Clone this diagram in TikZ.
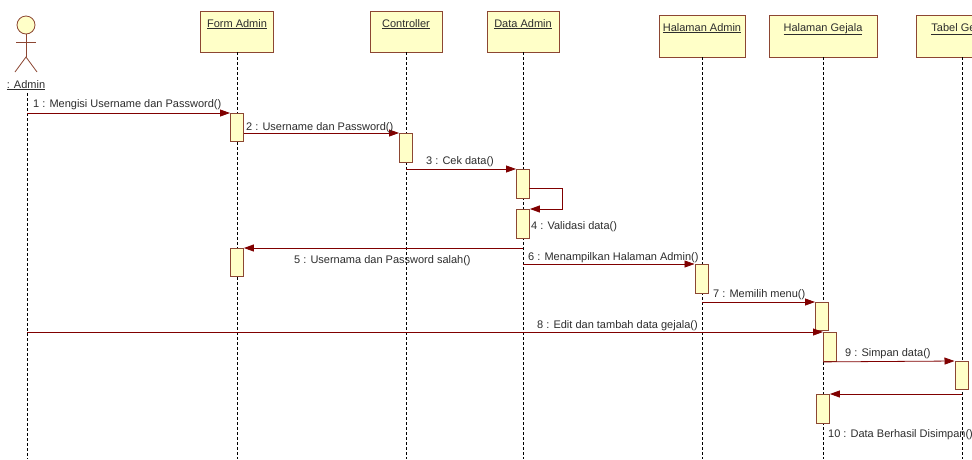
\documentclass[tikz,border=0pt]{standalone}
\usepackage{fontspec}
\setmainfont{Liberation Sans}
\usetikzlibrary{arrows.meta}
\definecolor{msgc}{RGB}{128,0,0}
\definecolor{boxfill}{RGB}{255,255,200}
\definecolor{boxline}{RGB}{140,70,50}
\definecolor{txtc}{RGB}{45,45,45}
\begin{document}
\begin{tikzpicture}[x=1pt,y=-1pt,
  font=\fontsize{11}{13}\selectfont,
  headbox/.style={draw=boxline, fill=boxfill, line width=0.9pt, inner sep=0, rectangle},
  actbox/.style={draw=boxline, fill=boxfill, line width=0.9pt, minimum width=13pt, minimum height=28pt, inner sep=0, rectangle, anchor=north west},
  lifeline/.style={draw=black, dash pattern=on 3pt off 2pt, line width=0.6pt},
  msgline/.style={draw=msgc, line width=0.8pt, -{Triangle[length=10pt,width=7pt]}},
  headtxt/.style={text=txtc, anchor=base, inner sep=0},
  lbl/.style={text=txtc, anchor=base west, inner sep=0},
  actorline/.style={draw=boxline, line width=0.8pt},
]
\useasboundingbox (0,0) rectangle (972,459);
\fill[white] (0,0) rectangle (972,459);

% ---------- object heads ----------
\node[headbox, minimum width=73pt, minimum height=41pt] (fa) at (237,31.5) {};
\node[headbox, minimum width=72pt, minimum height=41pt] (ct) at (406,31.5) {};
\node[headbox, minimum width=72pt, minimum height=41pt] (da) at (523,31.5) {};
\node[headbox, minimum width=86pt, minimum height=42pt] (ha) at (702,36) {};
\node[headbox, minimum width=108pt, minimum height=42pt] (hg) at (823,36) {};
\node[headbox, minimum width=92pt, minimum height=42pt] (tg) at (962,36) {};

\node[headtxt] (fat) at (237,27) {\underline{Form Admin}};
\node[headtxt] (ctt) at (406,27) {\underline{Controller}};
\node[headtxt] (dat) at (523,27) {\underline{Data Admin}};
\node[headtxt] (hat) at (702,31) {\underline{Halaman Admin}};
\node[headtxt] (hgt) at (823,31) {\underline{Halaman Gejala}};
\node[headtxt] (tgt) at (962,31) {\underline{Tabel Gejala}};

% ---------- actor ----------
\node[circle, draw=boxline, fill=boxfill, line width=0.8pt, minimum size=18pt, inner sep=0] (head) at (26,25) {};
\coordinate (neck) at (26,34);
\coordinate (hip) at (26,57);
\coordinate (larm) at (16,42);
\coordinate (rarm) at (36,42);
\coordinate (lleg) at (15,72);
\coordinate (rleg) at (37,72);
\draw[actorline] (head.south) -- (hip);
\draw[actorline] (larm) -- (rarm);
\draw[actorline] (lleg) -- (hip) -- (rleg);
\node[headtxt] (admt) at (26,88) {\underline{: Admin}};
\coordinate (adml) at (27,93);

% ---------- lifelines ----------
\draw[lifeline] (adml) -- (adml |- 0,459);
\draw[lifeline] (fa.south) -- (fa.south |- 0,459);
\draw[lifeline] (ct.south) -- (ct.south |- 0,459);
\draw[lifeline] (da.south) -- (da.south |- 0,459);
\draw[lifeline] (ha.south) -- (ha.south |- 0,459);
\draw[lifeline] (hg.south) -- (hg.south |- 0,459);
\draw[lifeline] (tg.south) -- (tg.south |- 0,459);

% ---------- activations ----------
\node[actbox] (fa1) at (230,113) {};
\node[actbox, minimum height=29pt] (ct1) at (399,133) {};
\node[actbox, minimum height=29pt] (da1) at (516,169) {};
\node[actbox, minimum height=29pt] (da2) at (516,209) {};
\node[actbox] (fa2) at (230,248) {};
\node[actbox, minimum height=29pt] (ha1) at (694.5,264) {};
\node[actbox] (hg1) at (815,302) {};
\node[actbox, minimum height=29pt] (hg2) at (823,332) {};
\node[actbox] (tg1) at (954.5,361) {};
\node[actbox, minimum height=29pt] (hg3) at (816,394) {};

% ---------- messages ----------
\coordinate (s4a) at (529,188);
\coordinate (s4b) at (562,188);
\draw[msgline] (adml |- fa1.north) -- (fa1.north west);
\draw[msgline] (fa1.east |- ct1.north) -- (ct1.north west);
\draw[msgline] (ct.south |- da1.north) -- (da1.north west);
\draw[msgline] (s4a) -- (s4b) -- (s4b |- da2.north) -- (da2.north east);
\draw[msgline] (da.south |- fa2.north) -- (fa2.north east);
\draw[msgline] (da.south |- ha1.north) -- (ha1.north west);
\draw[msgline] (ha.south |- hg1.north) -- (hg1.north west);
\draw[msgline] (adml |- hg2.north) -- (hg2.north west);
\draw[msgline] (hg2.south west) -- (tg1.north west);
\draw[msgline] (tg.south |- hg3.north) -- (hg3.north east);

% ---------- labels ----------
\node[lbl] (l1) at (33,107) {1 : Mengisi Username dan Password()};
\node[lbl] (l2) at (246,130) {2 : Username dan Password()};
\node[lbl] (l3) at (426,164) {3 : Cek data()};
\node[lbl] (l4) at (531,229) {4 : Validasi data()};
\node[lbl] (l5) at (294,263) {5 : Usernama dan Password salah()};
\node[lbl] (l6) at (528,260) {6 : Menampilkan Halaman Admin()};
\node[lbl] (l7) at (713,297) {7 : Memilih menu()};
\node[lbl] (l8) at (537,328) {8 : Edit dan tambah data gejala()};
\node[lbl] (l9) at (845,356) {9 : Simpan data()};
\node[lbl] (l10) at (828,437) {10 : Data Berhasil Disimpan()};
\end{tikzpicture}
\end{document}
